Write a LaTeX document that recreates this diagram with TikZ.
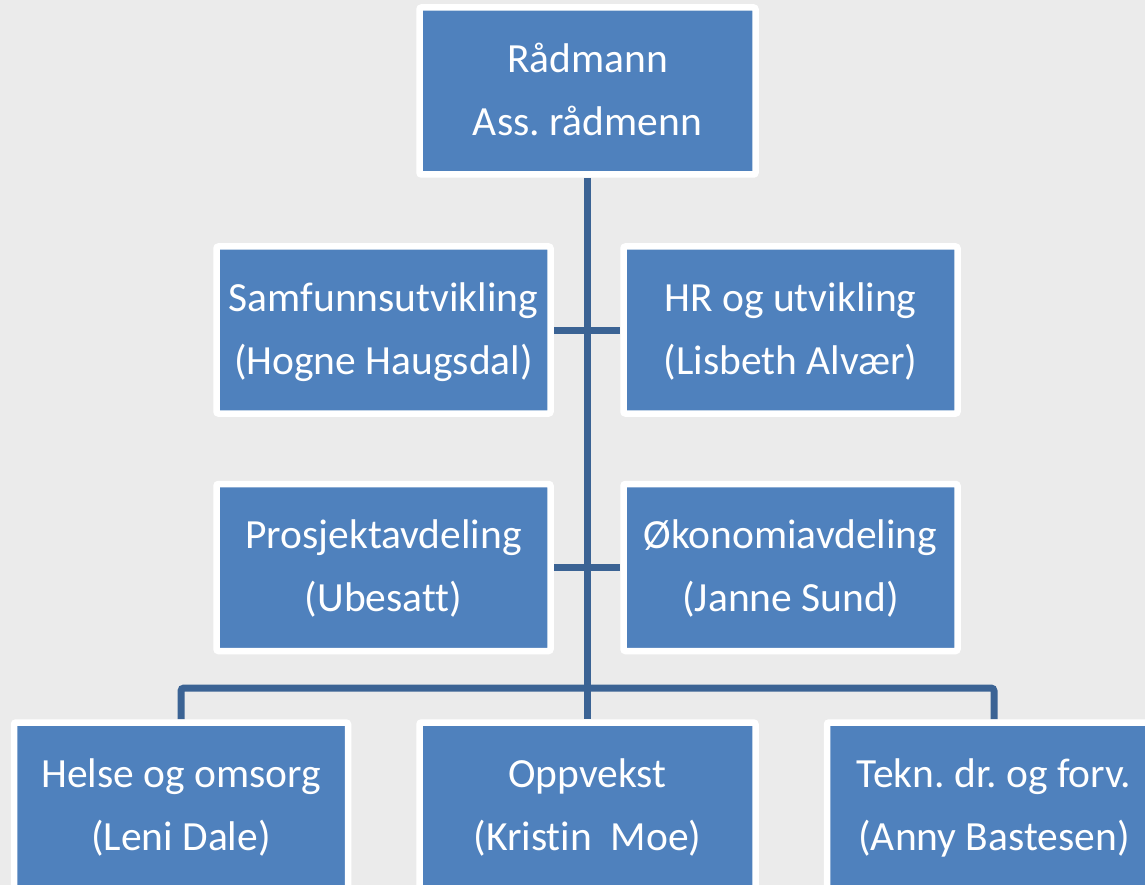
\documentclass[tikz,border=0pt]{standalone}
\usepackage{fontspec}
\setmainfont[Ligatures=NoCommon]{Carlito}
\definecolor{bg}{HTML}{EBEBEB}
\definecolor{boxblue}{HTML}{4F81BD}
\definecolor{linkblue}{HTML}{3B6394}
\pgfdeclarelayer{back}
\pgfdeclarelayer{links}
\pgfsetlayers{back,links,main}
\frenchspacing
\begin{document}
\begin{tikzpicture}[x=1pt,y=-1pt,
  orgbox/.style={rectangle, fill=boxblue, draw=white, line width=6.5pt,
    rounded corners=2pt, minimum width=334pt, minimum height=167pt,
    inner sep=0pt, text=white, align=center,
    font=\fontsize{41.5}{63}\selectfont},
  link/.style={draw=linkblue, line width=7pt}]
\useasboundingbox (0,0) rectangle (1145,885);
\begin{pgfonlayer}{back}
  \fill[bg] (0,0) rectangle (1145,885);
\end{pgfonlayer}
\node[orgbox, minimum width=336pt] (top) at (587.5,91) {\strut Rådmann\\\strut Ass. rådmenn};
\node[orgbox] (samf) at (383.5,330) {\strut Samfunnsutvikling\\\strut (Hogne Haugsdal)};
\node[orgbox] (hr) at (790.5,330) {\strut HR og utvikling\\\strut (Lisbeth Alvær)};
\node[orgbox] (proj) at (383.5,567.5) {\strut Prosjektavdeling\\\strut (Ubesatt)};
\node[orgbox] (okon) at (790.5,567.5) {\strut Økonomiavdeling\\\strut (Janne Sund)};
\node[orgbox] (helse) at (181,806) {\strut Helse og omsorg\\\strut (Leni Dale)};
\node[orgbox, minimum width=336pt] (opp) at (587.5,806) {\strut Oppvekst\\\strut (Kristin~~Moe)};
\node[orgbox] (tekn) at (994,806) {\strut Tekn. dr. og forv.\\\strut (Anny Bastesen)};
\coordinate (bus) at (587.5,688);
\begin{pgfonlayer}{links}
  \draw[link] (top.south) -- (opp.north);
  \draw[link] (samf.east) -- (hr.west);
  \draw[link] (proj.east) -- (okon.west);
  \draw[link, rounded corners=3pt] (helse.north) |- (bus) -| (tekn.north);
\end{pgfonlayer}
\end{tikzpicture}
\end{document}
